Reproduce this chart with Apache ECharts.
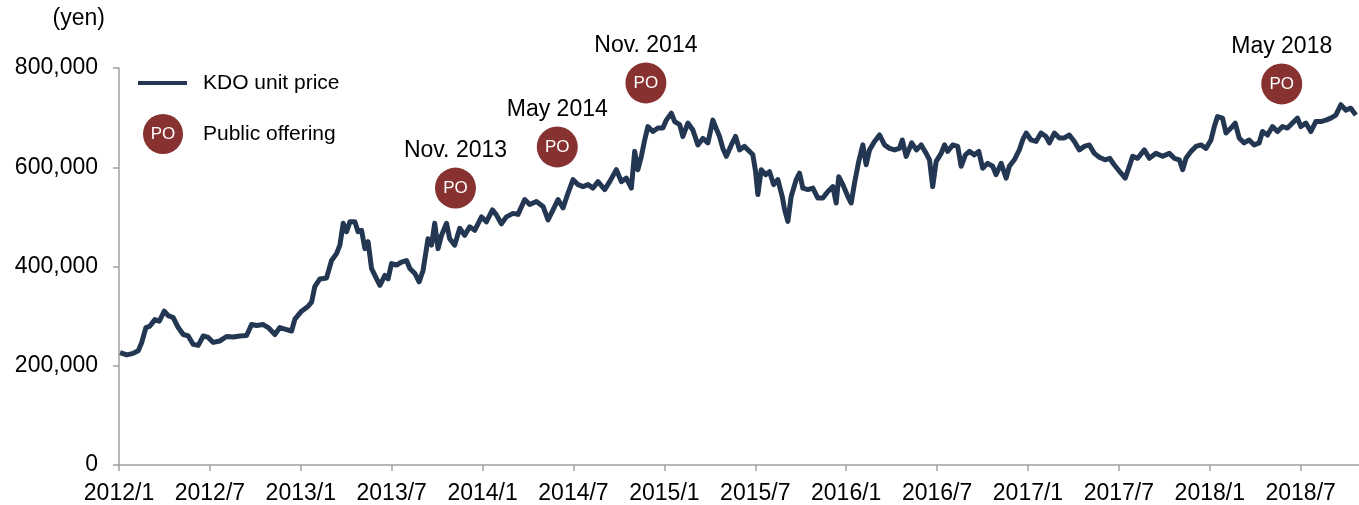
<!DOCTYPE html>
<html>
<head>
<meta charset="utf-8">
<title>KDO unit price</title>
<script src="https://cdn.jsdelivr.net/npm/echarts@6/dist/echarts.min.js"></script>
<style>
  html, body { margin: 0; padding: 0; background: #fff; }
  #chart { width: 1359px; height: 505px; }
</style>
</head>
<body>
<div id="chart"></div>
<script>
// Unit price of KDO: [months elapsed since January 2012, price in yen]
const unitPrice = [
  [0.07,226500],[0.51,222000],[0.94,225000],[1.27,230000],[1.50,247000],[1.78,277000],[2.04,280000],
  [2.37,293000],[2.66,290000],[2.99,310000],[3.25,301000],[3.58,297000],[3.91,277000],[4.24,263000],
  [4.57,260000],[4.90,243000],[5.23,241000],[5.56,260000],[5.89,257000],[6.22,247000],[6.66,250000],
  [7.10,259000],[7.54,258000],[7.98,260000],[8.42,261000],[8.75,283000],[9.08,281000],[9.52,283000],
  [9.85,277000],[10.29,263000],[10.62,277000],[11.06,273000],[11.39,270000],[11.61,294000],[12.05,310000],
  [12.49,320000],[12.71,328000],[12.93,360000],[13.26,375000],[13.70,377000],[14.03,412000],[14.36,426000],
  [14.58,443000],[14.80,487000],[15.02,470000],[15.24,490000],[15.57,490000],[15.78,470000],[16.01,473000],
  [16.23,436000],[16.44,450000],[16.67,396000],[16.89,382000],[17.22,362000],[17.55,382000],[17.76,375000],
  [17.99,406000],[18.32,403000],[18.65,409000],[18.98,412000],[19.20,396000],[19.53,386000],[19.81,369000],
  [20.07,392000],[20.40,456000],[20.63,443000],[20.84,487000],[21.06,436000],[21.29,463000],[21.62,487000],
  [21.83,456000],[22.16,443000],[22.49,477000],[22.82,463000],[23.15,480000],[23.48,473000],[23.93,500000],
  [24.25,490000],[24.65,514000],[24.91,504000],[25.24,486000],[25.57,500000],[26.01,507000],[26.34,505000],
  [26.78,535000],[27.11,525000],[27.55,531000],[27.99,521000],[28.32,494000],[28.65,514000],[28.98,535000],
  [29.31,518000],[29.64,548000],[29.97,575000],[30.30,565000],[30.63,561000],[30.96,565000],[31.29,558000],
  [31.62,571000],[32.06,555000],[32.39,571000],[32.83,595000],[33.16,571000],[33.49,578000],[33.82,558000],
  [34.04,632000],[34.25,595000],[34.48,622000],[34.70,655000],[34.91,682000],[35.24,672000],[35.57,679000],
  [35.90,679000],[36.13,695000],[36.46,709000],[36.68,692000],[37.01,686000],[37.22,662000],[37.55,689000],
  [37.88,675000],[38.21,645000],[38.54,658000],[38.87,649000],[39.20,695000],[39.42,678000],[39.64,662000],
  [39.86,638000],[40.09,622000],[40.42,645000],[40.70,662000],[40.96,635000],[41.29,642000],[41.62,632000],
  [41.84,625000],[42.02,591000],[42.17,545000],[42.39,595000],[42.68,585000],[42.94,591000],[43.21,565000],
  [43.49,575000],[43.78,541000],[43.93,515000],[44.15,491000],[44.37,541000],[44.70,575000],[44.92,588000],
  [45.14,558000],[45.47,555000],[45.80,558000],[46.13,538000],[46.46,538000],[46.79,551000],[47.12,561000],
  [47.34,528000],[47.51,581000],[47.78,565000],[48.11,541000],[48.33,528000],[48.55,568000],[48.83,612000],
  [49.10,645000],[49.32,605000],[49.54,635000],[49.87,652000],[50.20,665000],[50.53,645000],[50.86,638000],
  [51.19,635000],[51.52,638000],[51.70,655000],[51.96,622000],[52.32,649000],[52.64,635000],[52.95,645000],
  [53.28,628000],[53.50,615000],[53.71,561000],[53.94,612000],[54.27,628000],[54.49,645000],[54.70,632000],
  [55.03,645000],[55.36,642000],[55.59,602000],[55.87,625000],[56.13,632000],[56.46,625000],[56.75,632000],
  [57.01,598000],[57.34,608000],[57.67,602000],[57.89,585000],[58.23,608000],[58.56,578000],[58.77,602000],
  [59.10,615000],[59.43,635000],[59.65,655000],[59.88,669000],[60.20,655000],[60.53,652000],[60.86,669000],
  [61.19,662000],[61.41,649000],[61.74,669000],[62.07,659000],[62.40,659000],[62.73,665000],[63.06,652000],
  [63.39,635000],[63.72,642000],[64.05,645000],[64.38,628000],[64.71,620000],[65.08,615000],[65.40,618000],
  [65.69,605000],[66.14,588000],[66.42,578000],[66.69,602000],[66.91,622000],[67.24,618000],[67.68,635000],
  [68.01,618000],[68.45,628000],[68.89,622000],[69.33,628000],[69.66,618000],[69.99,615000],[70.21,595000],
  [70.43,618000],[70.76,632000],[71.09,642000],[71.42,645000],[71.75,638000],[72.08,655000],[72.30,682000],
  [72.51,702000],[72.84,699000],[73.07,669000],[73.40,679000],[73.68,689000],[73.94,659000],[74.27,649000],
  [74.60,655000],[74.93,645000],[75.26,649000],[75.48,672000],[75.81,665000],[76.14,682000],[76.47,672000],
  [76.80,682000],[77.13,679000],[77.46,689000],[77.79,699000],[78.01,682000],[78.34,689000],[78.67,672000],
  [79.00,692000],[79.33,692000],[79.66,695000],[79.99,699000],[80.32,705000],[80.65,726000],[80.98,715000],
  [81.31,719000],[81.64,705000]
];

// Public offerings: timing (months since January 2012), marker level (yen) and caption
const offeringMonths = [22.21, 28.93, 34.78, 76.75];
const offeringLevels = [558000, 641000, 770000, 768000];
const offeringLabels = ['Nov. 2013', 'May 2014', 'Nov. 2014', 'May 2018'];

// Axis ticks
const yTicks = [0, 200000, 400000, 600000, 800000];
const tickStepMonths = 6;
const startYear = 2012;
const lastMonth = 81.85;

const FONT = '"Liberation Sans", Arial, sans-serif';
const NAVY = '#243752';
const MAROON = '#873131';
const AXIS_GRAY = '#a0a0a0';

const offeringPoints = offeringMonths.map((m, i) => [m, offeringLevels[i], offeringLabels[i]]);

function monthLabel(v) {
  if (Math.abs(v % tickStepMonths) > 1e-6) return '';
  const y = startYear + Math.floor(v / 12);
  const m = (v % 12) + 1;
  return y + '/' + m;
}

const chart = echarts.init(document.getElementById('chart'), null, { renderer: 'canvas' });

chart.setOption({
  animation: false,
  backgroundColor: '#ffffff',
  textStyle: { fontFamily: FONT },
  grid: { left: 119, right: 0, top: 68, bottom: 40, containLabel: false },
  legend: [
    {
      left: 138, top: 71, padding: 0,
      orient: 'vertical',
      itemWidth: 49, itemHeight: 4,
      icon: 'rect',
      data: [{ name: 'KDO unit price', itemStyle: { color: NAVY } }],
      textStyle: { fontFamily: FONT, fontSize: 21, color: '#000', lineHeight: 24, padding: [0, 0, 0, 11] }
    },
    {
      left: 143, top: 114, padding: 0,
      orient: 'vertical',
      itemWidth: 40, itemHeight: 40,
      icon: 'circle',
      data: [{ name: 'Public offering', itemStyle: { color: MAROON } }],
      textStyle: { fontFamily: FONT, fontSize: 21, color: '#000', lineHeight: 24, padding: [0, 0, 0, 15] }
    }
  ],
  graphic: [
    {
      type: 'text', z: 100, x: 163, y: 134,
      style: { text: 'PO', x: 0, y: 0, fill: '#fff', font: '17px ' + FONT, align: 'center', verticalAlign: 'middle' }
    }
  ],
  xAxis: {
    type: 'value',
    min: 0,
    max: lastMonth,
    interval: tickStepMonths,
    splitLine: { show: false },
    axisLine: { show: true, lineStyle: { color: AXIS_GRAY, width: 1.5 } },
    axisTick: { show: true, length: 6, lineStyle: { color: AXIS_GRAY, width: 1.5 } },
    axisLabel: {
      formatter: monthLabel,
      margin: 17,
      fontSize: 23,
      fontFamily: FONT,
      color: '#000',
      showMaxLabel: false,
      hideOverlap: false
    }
  },
  yAxis: {
    type: 'value',
    min: yTicks[0],
    max: yTicks[yTicks.length - 1],
    interval: yTicks[1] - yTicks[0],
    name: '(yen)',
    nameLocation: 'end',
    nameGap: 49,
    nameTextStyle: { fontSize: 23, fontFamily: FONT, color: '#000', align: 'right', verticalAlign: 'middle', padding: [0, 14, 0, 0] },
    splitLine: { show: false },
    axisLine: { show: true, lineStyle: { color: AXIS_GRAY, width: 1.5 } },
    axisTick: { show: true, length: 6, lineStyle: { color: AXIS_GRAY, width: 1.5 } },
    axisLabel: {
      margin: 21,
      fontSize: 23,
      fontFamily: FONT,
      color: '#000',
      formatter: v => v.toLocaleString('en-US')
    }
  },
  series: [
    {
      name: 'KDO unit price',
      type: 'line',
      data: unitPrice,
      showSymbol: false,
      symbol: 'none',
      lineStyle: { color: NAVY, width: 5, join: 'round' },
      itemStyle: { color: NAVY },
      z: 3
    },
    {
      name: 'Public offering',
      type: 'scatter',
      data: offeringPoints,
      symbol: 'circle',
      symbolSize: 41,
      itemStyle: { color: MAROON, opacity: 1 },
      label: {
        show: true, position: 'inside', formatter: 'PO',
        color: '#fff', fontSize: 17, fontFamily: FONT,
        textBorderWidth: 0
      },
      z: 4
    },
    {
      name: 'Offering date',
      type: 'scatter',
      data: offeringPoints,
      symbol: 'circle',
      symbolSize: 1,
      itemStyle: { color: 'rgba(0,0,0,0)', opacity: 1 },
      label: {
        show: true, position: 'inside', offset: [0, -37],
        formatter: p => p.data[2],
        color: '#000', fontSize: 23, fontFamily: FONT,
        textBorderWidth: 0, opacity: 1
      },
      z: 5
    }
  ]
});
</script>
</body>
</html>
